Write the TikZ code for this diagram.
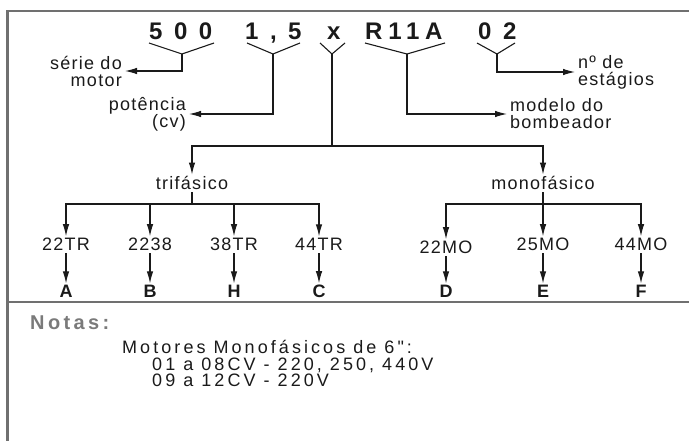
\documentclass[tikz,border=0pt]{standalone}
\usepackage{fontspec}
\setmainfont{Liberation Sans}
\newfontfamily\codefont{Liberation Sans}[LetterSpace=48]
\newfontfamily\codefonttight{Liberation Sans}[LetterSpace=24]
\newfontfamily\labelfont{Liberation Sans}[LetterSpace=7]
\newfontfamily\notefont{Liberation Sans}[LetterSpace=17]
\usetikzlibrary{positioning, arrows.meta}
\definecolor{Dark}{HTML}{1A1A1A}
\definecolor{Frame}{HTML}{707070}
\definecolor{Muted}{HTML}{7A7A7A}
\tikzset{
    codenode/.style={inner sep=0pt, anchor=base west, text=Dark, font=\fontsize{24}{24}\codefont\bfseries},
    codetight/.style={codenode, font=\fontsize{24}{24}\codefonttight\bfseries},
    labelnode/.style={inner sep=3pt, text=Dark, font=\fontsize{18}{17}\labelfont},
    leafnode/.style={inner sep=2pt, anchor=base, text=Dark, font=\fontsize{18}{18}\labelfont},
    letternode/.style={inner sep=2pt, anchor=base, text=Dark, font=\fontsize{18}{18}\labelfont\bfseries},
    notenode/.style={inner sep=0pt, anchor=base west, text=Dark, font=\fontsize{18}{18}\notefont},
    arrow/.style={-{Latex[length=12pt,width=6.5pt]}, line width=1.1pt, color=Dark},
    bracket/.style={line width=1.1pt, color=Dark},
    frame/.style={line width=2.5pt, color=Frame},
}
\begin{document}
\begin{tikzpicture}[x=1pt, y=-1pt]
    \useasboundingbox (0,0) rectangle (689,441);
    % frame and divider
    \draw[frame] (7.5,441) -- (7.5,11) -- (689,11);
    \draw[frame] (7.5,302) -- (689,302);

    % code line
    \node[codenode] (c500) at (149,40) {500};
    \node[codenode] (c15) at (245,40) {1,5};
    \node[codenode] (cx) at (327,40) {x};
    \node[codetight] (cr) at (365,40) {R11A};
    \node[codenode] (c02) at (478,40) {02};

    \coordinate (b500) at (182,54);
    \coordinate (b15) at (273,54);
    \coordinate (bx) at (332,54);
    \coordinate (br) at (407,54);
    \coordinate (b02) at (497,54);
    \draw[bracket] (149,43) -- (b500) -- (214,43);
    \draw[bracket] (247,43) -- (b15) -- (300,43);
    \draw[bracket] (320,43) -- (bx) -- (345,43);
    \draw[bracket] (365,43) -- (br) -- (445,43);
    \draw[bracket] (477,43) -- (b02) -- (515,43);

    % side labels
    \node[labelnode, anchor=east, align=right] (serie) at (125,71) {série do\\motor};
    \node[labelnode, anchor=east, align=right] (pot) at (189,114) {potência\\(cv)};
    \node[labelnode, anchor=west, align=left] (estag) at (575,72) {nº de\\estágios};
    \node[labelnode, anchor=west, align=left] (modelo) at (507,114) {modelo do\\bombeador};
    \draw[arrow] (b500) |- (serie.east);
    \draw[arrow] (b15) |- (pot.east);
    \draw[arrow] (b02) |- (estag.west);
    \draw[arrow] (br) |- (modelo.west);

    % motor tree
    \node[leafnode] (tri) at (192,190) {trifásico};
    \node[leafnode] (mono) at (543,190) {monofásico};
    \coordinate (split) at (332,146);
    \draw[bracket] (bx) -- (split);
    \draw[arrow] (split) -| (tri);
    \draw[arrow] (split) -| (mono);

    \coordinate (trisplit) at (192,204);
    \coordinate (monosplit) at (543,204);
    \draw[bracket] (tri) -- (trisplit);
    \draw[bracket] (mono) -- (monosplit);

    \foreach \name/\x/\y/\txt/\ltr in {tr22/66/251/22TR/A, tr2238/150/251/2238/B, tr38/234/251/38TR/H, tr44/319/251/44TR/C} {
        \node[leafnode] (\name) at (\x,\y) {\txt};
        \node[letternode] (l\name) at (\x,298) {\ltr};
        \draw[arrow] (trisplit) -| (\name);
        \draw[arrow] (\name) -- (l\name);
    }
    \foreach \name/\x/\y/\txt/\ltr in {mo22/446/254/22MO/D, mo25/543/251/25MO/E, mo44/641/251/44MO/F} {
        \node[leafnode] (\name) at (\x,\y) {\txt};
        \node[letternode] (l\name) at (\x,298) {\ltr};
        \draw[arrow] (monosplit) -| (\name);
        \draw[arrow] (\name) -- (l\name);
    }

    % notes
    \node[notenode, text=Muted, font=\fontsize{20}{20}\notefont\bfseries] (notas) at (30,330) {Notas:};
    \node[notenode] (note1) at (122,353.5) {Motores Monofásicos de 6":};
    \node[notenode] (note2) at (152,370) {01 a 08CV - 220, 250, 440V};
    \node[notenode] (note3) at (152,386.5) {09 a 12CV - 220V};
\end{tikzpicture}
\end{document}
